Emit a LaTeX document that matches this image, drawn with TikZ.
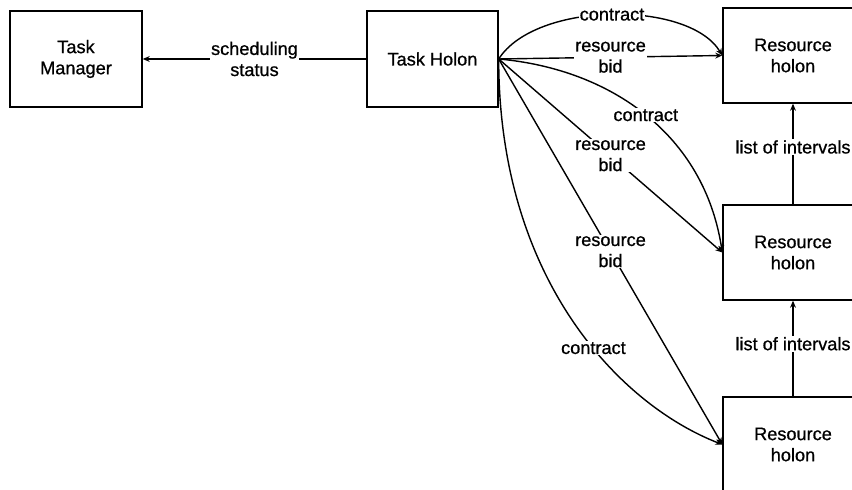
\documentclass[tikz,border=0pt]{standalone}
\usepackage{fontspec}
\setmainfont{Liberation Sans}[FakeBold=0.8]
\usetikzlibrary{arrows.meta}

\begin{document}
\begin{tikzpicture}[>={Stealth[length=6pt,width=5pt]},line width=1.2pt,
  every node/.style={font=\fontsize{15.5}{18}\selectfont,align=center},
  holon/.style={draw,minimum width=#1,minimum height=2.88cm,inner sep=0pt},
  lbl/.style={fill=white,inner sep=1pt}]
  \useasboundingbox (0,0) rectangle (25.56,14.7);
  \clip (0,0) rectangle (25.56,14.7);
  \node[holon=3.96cm] (TM) at (2.28,12.93)  {Task\\Manager};
  \node[holon=3.93cm] (TH) at (12.975,12.93) {Task Holon};
  \node[holon=4.2cm,minimum height=2.85cm] (RT) at (23.79,13.035) {Resource\\holon};
  \node[holon=4.2cm,minimum height=2.85cm] (RM) at (23.79,7.125)  {Resource\\holon};
  \node[holon=4.2cm,minimum height=2.85cm] (RB) at (23.79,1.365)  {Resource\\holon};
  \draw[->] (TH.west) -- node[lbl]{scheduling\\status} (TM.east);
  % bids and contracts to the resource holons
  \draw[->] (TH.east) -- node[lbl]{resource\\bid} (RT.west);
  \draw[->] (TH.east) .. controls +(1.11,1.74) and +(-0.99,1.665) .. node[lbl,pos=0.5]{contract} (RT.west);
  \draw[->] (TH.east) -- node[lbl]{resource\\bid} (RM.west);
  \draw[->] (TH.east) .. controls +(3.36,-0.3) and +(-0.54,3.54) .. node[lbl,pos=0.5]{contract} (RM.west);
  \draw[->] (TH.east) -- node[lbl]{resource\\bid} (RB.west);
  \draw[->] (TH.east) .. controls +(0,-6.6) and +(-3.09,1.2) .. node[lbl,pos=0.58]{contract} (RB.west);
  % intervals up the chain
  \draw[->] (RM.north) -- node[lbl,pos=0.57]{list of intervals} (RT.south);
  \draw[->] (RB.north) -- node[lbl,pos=0.55]{list of intervals} (RM.south);
\end{tikzpicture}
\end{document}
